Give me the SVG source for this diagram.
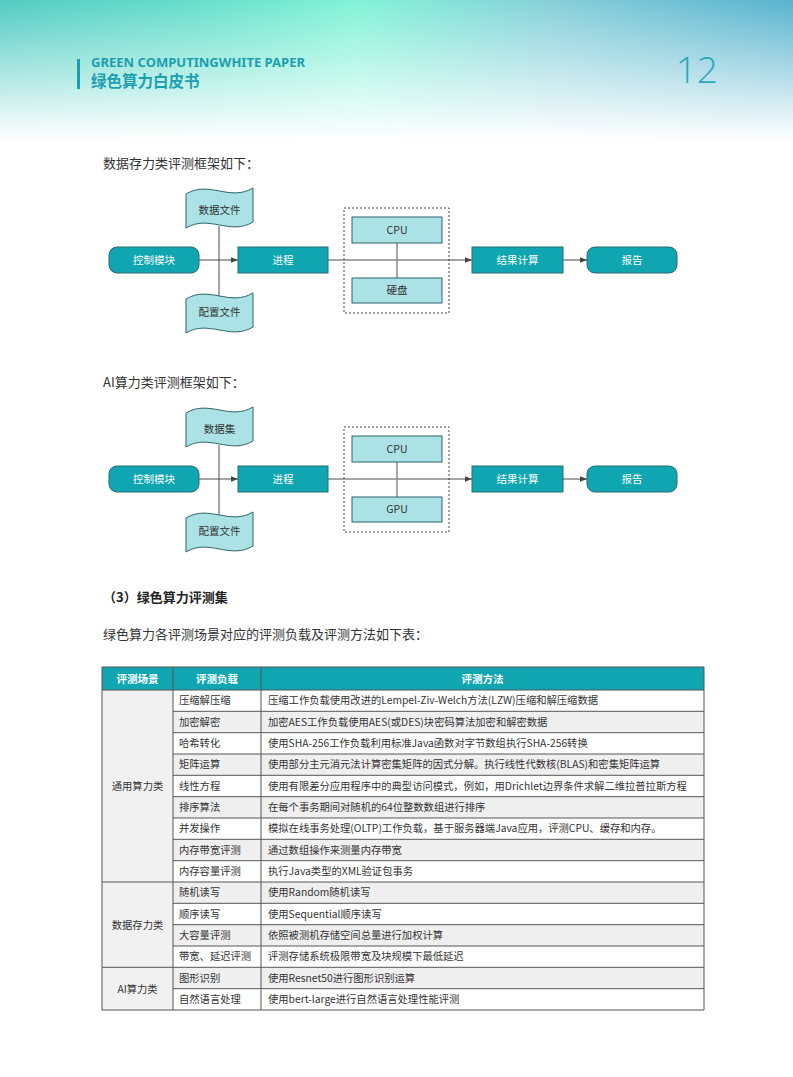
<svg xmlns="http://www.w3.org/2000/svg" width="793" height="1077" viewBox="0 0 793 1077">
<style>
.cn{font-family:"Noto Sans CJK SC","Noto Sans",sans-serif}
.para{font-size:13px;fill:#333}
.nd{fill:#0fa6b1;stroke:#2a6d72;stroke-width:1}
.nt{font-size:10.5px;fill:#fff;text-anchor:middle}
.lt{fill:#abe2e5;stroke:#2f6468;stroke-width:1}
.ltt{font-size:10.5px;fill:#333;text-anchor:middle}
.ln{stroke:#4a4a4a;stroke-width:1;fill:none}
.th{font-size:10.5px;fill:#fff;font-weight:bold;text-anchor:middle}
.td{font-size:10.3px;fill:#333}
.tc{font-size:10.3px;fill:#333;text-anchor:middle}
.grid{stroke:#555;stroke-width:1}
</style>
<defs>
<linearGradient id="hg" x1="0" y1="0" x2="1" y2="0">
<stop offset="0" stop-color="#52cbc2"/>
<stop offset="0.25" stop-color="#66dfca"/>
<stop offset="0.45" stop-color="#82f3d6"/>
<stop offset="0.7" stop-color="#86cfd9"/>
<stop offset="1" stop-color="#58b3cf"/>
</linearGradient>
<linearGradient id="fade" x1="0" y1="0" x2="0" y2="1">
<stop offset="0" stop-color="#fff" stop-opacity="0"/>
<stop offset="0.3" stop-color="#fff" stop-opacity="0.3"/>
<stop offset="1" stop-color="#fff" stop-opacity="1"/>
</linearGradient>
<marker id="ar" viewBox="0 0 8 8" refX="8" refY="4" markerWidth="7" markerHeight="7" markerUnits="userSpaceOnUse" orient="auto">
<path d="M0,0.8 L8,4 L0,7.2 Z" fill="#444"/>
</marker>
<path id="doc" d="M0,6 C23,-8 44,14 67,0 L67,34 C44,48 23,26 0,40 Z"/>
</defs>

<g id="header">
<rect x="0" y="0" width="793" height="140" fill="url(#hg)"/>
<rect x="0" y="0" width="793" height="140" fill="url(#fade)"/>
<rect x="77" y="59" width="3" height="30" fill="#1a9fae"/>
<text x="91" y="67" font-family="Noto Sans,Open Sans,sans-serif" font-size="12.5" font-weight="bold" fill="#1b9fb0" textLength="214" lengthAdjust="spacingAndGlyphs">GREEN COMPUTINGWHITE PAPER</text>
<text x="91" y="87" class="cn" font-size="15.5" font-weight="bold" fill="#1b9fb0">绿色算力白皮书</text>
<text x="718" y="83" text-anchor="end" font-family="Open Sans,Lato,sans-serif" font-weight="300" font-size="37" fill="#2aa9b6">12</text>
</g>

<text x="103" y="168" class="cn para">数据存力类评测框架如下：</text>

<g id="diagram1">
<g id="d1-connectors">
<line class="ln" x1="199" y1="260" x2="238" y2="260" marker-end="url(#ar)"/>
<line class="ln" x1="219" y1="226" x2="219" y2="296"/>
<line class="ln" x1="328" y1="260" x2="472" y2="260" marker-end="url(#ar)"/>
<line x1="397" y1="243" x2="397" y2="278" stroke="#8a8a8a" stroke-width="1.5"/>
<line class="ln" x1="563" y1="260" x2="587" y2="260" marker-end="url(#ar)"/>
</g>
<g id="d1-ctrl"><rect class="nd" x="109" y="247" width="90" height="26" rx="8"/><text class="cn nt" x="154" y="264">控制模块</text></g>
<g id="d1-data"><use href="#doc" class="lt" transform="translate(186,188)"/><text class="cn ltt" x="219.5" y="214">数据文件</text></g>
<g id="d1-conf"><use href="#doc" class="lt" transform="translate(186,293)"/><text class="cn ltt" x="219.5" y="316">配置文件</text></g>
<g id="d1-proc"><rect class="nd" x="238" y="247" width="90" height="26"/><text class="cn nt" x="283" y="264">进程</text></g>
<g id="d1-group"><rect x="344" y="208" width="105" height="105" fill="none" stroke="#444" stroke-width="1" stroke-dasharray="2,2"/></g>
<g id="d1-cpu"><rect class="lt" x="352" y="217" width="90" height="26"/><text class="cn ltt" x="397" y="234">CPU</text></g>
<g id="d1-disk"><rect class="lt" x="352" y="278" width="90" height="25"/><text class="cn ltt" x="397" y="294">硬盘</text></g>
<g id="d1-result"><rect class="nd" x="472" y="247" width="91" height="26"/><text class="cn nt" x="517.5" y="264">结果计算</text></g>
<g id="d1-report"><rect class="nd" x="587" y="247" width="90" height="26" rx="8"/><text class="cn nt" x="632" y="264">报告</text></g>
</g>

<text x="103" y="387" class="cn para">AI算力类评测框架如下：</text>

<g id="diagram2" transform="translate(0,219)">
<g id="d2-connectors">
<line class="ln" x1="199" y1="260" x2="238" y2="260" marker-end="url(#ar)"/>
<line class="ln" x1="219" y1="226" x2="219" y2="296"/>
<line class="ln" x1="328" y1="260" x2="472" y2="260" marker-end="url(#ar)"/>
<line x1="397" y1="243" x2="397" y2="278" stroke="#8a8a8a" stroke-width="1.5"/>
<line class="ln" x1="563" y1="260" x2="587" y2="260" marker-end="url(#ar)"/>
</g>
<g id="d2-ctrl"><rect class="nd" x="109" y="247" width="90" height="26" rx="8"/><text class="cn nt" x="154" y="264">控制模块</text></g>
<g id="d2-data"><use href="#doc" class="lt" transform="translate(186,188)"/><text class="cn ltt" x="219.5" y="214">数据集</text></g>
<g id="d2-conf"><use href="#doc" class="lt" transform="translate(186,293)"/><text class="cn ltt" x="219.5" y="316">配置文件</text></g>
<g id="d2-proc"><rect class="nd" x="238" y="247" width="90" height="26"/><text class="cn nt" x="283" y="264">进程</text></g>
<g id="d2-group"><rect x="344" y="208" width="105" height="105" fill="none" stroke="#444" stroke-width="1" stroke-dasharray="2,2"/></g>
<g id="d2-cpu"><rect class="lt" x="352" y="217" width="90" height="26"/><text class="cn ltt" x="397" y="234">CPU</text></g>
<g id="d2-gpu"><rect class="lt" x="352" y="278" width="90" height="25"/><text class="cn ltt" x="397" y="294">GPU</text></g>
<g id="d2-result"><rect class="nd" x="472" y="247" width="91" height="26"/><text class="cn nt" x="517.5" y="264">结果计算</text></g>
<g id="d2-report"><rect class="nd" x="587" y="247" width="90" height="26" rx="8"/><text class="cn nt" x="632" y="264">报告</text></g>
</g>

<text x="103" y="602" class="cn" font-size="13" font-weight="bold" fill="#222">（3）绿色算力评测集</text>
<text x="103" y="639" class="cn para">绿色算力各评测场景对应的评测负载及评测方法如下表：</text>

<g id="table">
<rect x="102" y="667" width="602" height="23" fill="#10a6b1"/>
<rect x="102" y="690" width="71" height="320" fill="#f1f1f1"/>
<g fill="#efefef">
<rect x="173" y="711.3" width="531" height="21.4"/>
<rect x="173" y="754" width="531" height="21.3"/>
<rect x="173" y="796.7" width="531" height="21.3"/>
<rect x="173" y="839.3" width="531" height="21.4"/>
<rect x="173" y="882" width="531" height="21.3"/>
<rect x="173" y="924.7" width="531" height="21.3"/>
<rect x="173" y="967.3" width="531" height="21.4"/>
</g>
<g class="grid">
<line x1="102" y1="667" x2="704" y2="667"/>
<line x1="102" y1="690" x2="704" y2="690"/>
<line x1="173" y1="711.3" x2="704" y2="711.3"/>
<line x1="173" y1="732.7" x2="704" y2="732.7"/>
<line x1="173" y1="754" x2="704" y2="754"/>
<line x1="173" y1="775.3" x2="704" y2="775.3"/>
<line x1="173" y1="796.7" x2="704" y2="796.7"/>
<line x1="173" y1="818" x2="704" y2="818"/>
<line x1="173" y1="839.3" x2="704" y2="839.3"/>
<line x1="173" y1="860.7" x2="704" y2="860.7"/>
<line x1="102" y1="882" x2="704" y2="882"/>
<line x1="173" y1="903.3" x2="704" y2="903.3"/>
<line x1="173" y1="924.7" x2="704" y2="924.7"/>
<line x1="173" y1="946" x2="704" y2="946"/>
<line x1="102" y1="967.3" x2="704" y2="967.3"/>
<line x1="173" y1="988.7" x2="704" y2="988.7"/>
<line x1="102" y1="1010" x2="704" y2="1010"/>
<line x1="102" y1="667" x2="102" y2="1010"/>
<line x1="173" y1="667" x2="173" y2="1010"/>
<line x1="261" y1="667" x2="261" y2="1010"/>
<line x1="704" y1="667" x2="704" y2="1010"/>
</g>
<text class="cn th" x="137.5" y="683">评测场景</text>
<text class="cn th" x="217" y="683">评测负载</text>
<text class="cn th" x="482.5" y="683">评测方法</text>

<text class="cn tc" x="137.5" y="790">通用算力类</text>
<text class="cn tc" x="137.5" y="929">数据存力类</text>
<text class="cn tc" x="137.5" y="993">AI算力类</text>

<g class="cn td">
<text x="179" y="704">压缩解压缩</text>
<text x="179" y="725.5">加密解密</text>
<text x="179" y="747">哈希转化</text>
<text x="179" y="768.3">矩阵运算</text>
<text x="179" y="789.7">线性方程</text>
<text x="179" y="811">排序算法</text>
<text x="179" y="832.3">并发操作</text>
<text x="179" y="853.7">内存带宽评测</text>
<text x="179" y="875">内存容量评测</text>
<text x="179" y="896.3">随机读写</text>
<text x="179" y="917.7">顺序读写</text>
<text x="179" y="939">大容量评测</text>
<text x="179" y="960.3">带宽、延迟评测</text>
<text x="179" y="981.7">图形识别</text>
<text x="179" y="1003">自然语言处理</text>
</g>
<g class="cn td">
<text x="268" y="704">压缩工作负载使用改进的Lempel-Ziv-Welch方法(LZW)压缩和解压缩数据</text>
<text x="268" y="725.5">加密AES工作负载使用AES(或DES)块密码算法加密和解密数据</text>
<text x="268" y="747">使用SHA-256工作负载利用标准Java函数对字节数组执行SHA-256转换</text>
<text x="268" y="768.3">使用部分主元消元法计算密集矩阵的因式分解。执行线性代数核(BLAS)和密集矩阵运算</text>
<text x="268" y="789.7">使用有限差分应用程序中的典型访问模式，例如，用Drichlet边界条件求解二维拉普拉斯方程</text>
<text x="268" y="811">在每个事务期间对随机的64位整数数组进行排序</text>
<text x="268" y="832.3">模拟在线事务处理(OLTP)工作负载，基于服务器端Java应用，评测CPU、缓存和内存。</text>
<text x="268" y="853.7">通过数组操作来测量内存带宽</text>
<text x="268" y="875">执行Java类型的XML验证包事务</text>
<text x="268" y="896.3">使用Random随机读写</text>
<text x="268" y="917.7">使用Sequential顺序读写</text>
<text x="268" y="939">依照被测机存储空间总量进行加权计算</text>
<text x="268" y="960.3">评测存储系统极限带宽及块规模下最低延迟</text>
<text x="268" y="981.7">使用Resnet50进行图形识别运算</text>
<text x="268" y="1003">使用bert-large进行自然语言处理性能评测</text>
</g>
</g>
</svg>
